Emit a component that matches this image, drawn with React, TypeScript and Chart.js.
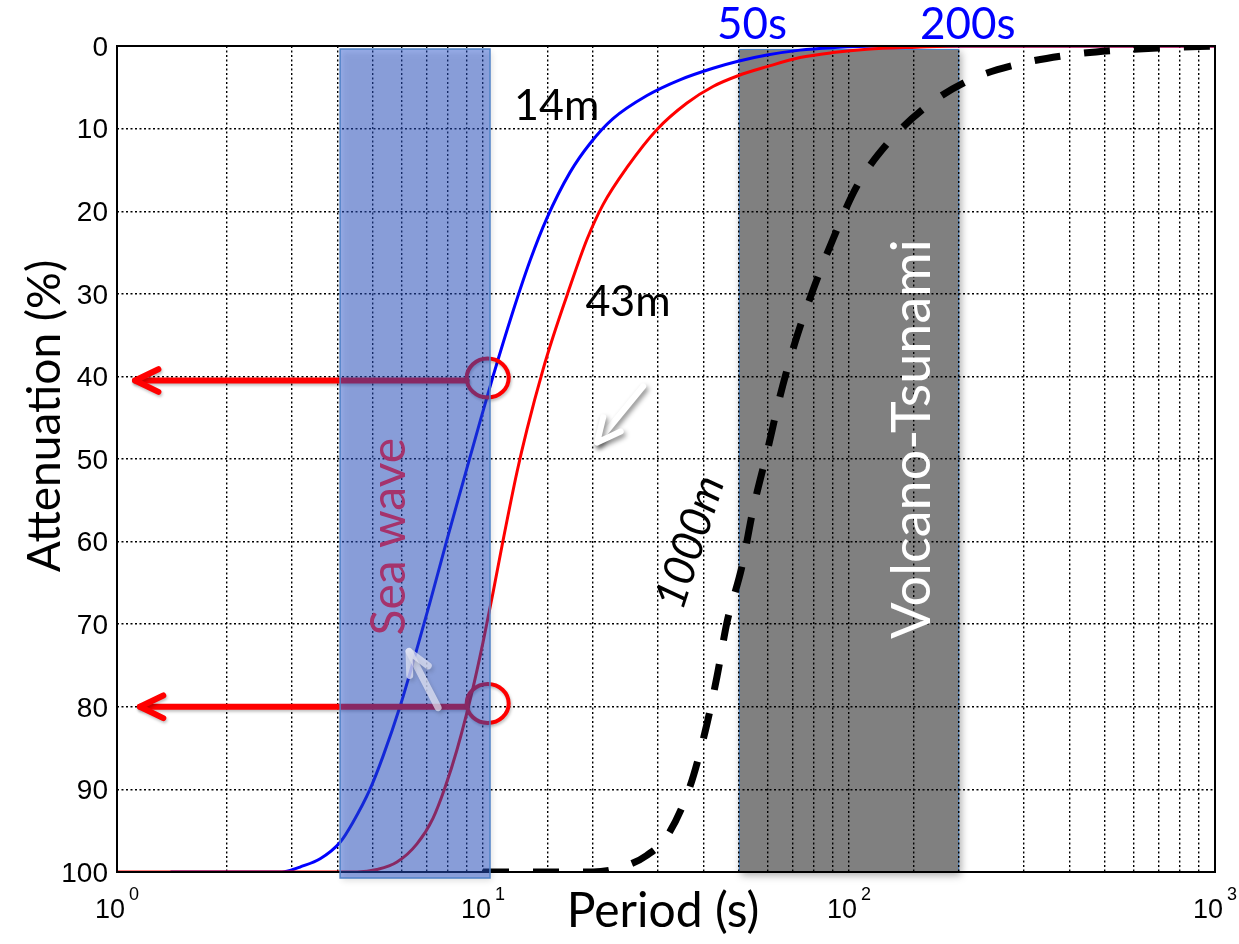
import React, { useEffect, useRef } from 'react';
import { Chart, registerables } from 'chart.js';

Chart.register(...registerables);

// ---- data (period in s, attenuation in %) ----
const period14m = [1.4, 2.0, 2.79, 2.97, 3.16, 3.59, 4.07, 4.41, 4.91, 5.33, 5.93, 6.52, 7.17, 7.97, 8.82, 9.81, 10.65, 12.0, 13.44, 14.96, 17.29, 19.61, 22.66, 28.06, 34.5, 42.5, 49.75, 59.7, 73.5, 90.4, 118, 1000];
const atten14m = [100, 100, 100, 99.8, 99.4, 98.4, 96.4, 94.0, 90.0, 86.0, 80.0, 73.8, 67.3, 59.8, 52.8, 45.5, 40.0, 32.5, 26.0, 20.8, 15.3, 11.8, 8.8, 6.0, 4.1, 2.7, 1.85, 1.1, 0.5, 0.2, 0, 0];

const period43m = [1, 3, 4.53, 5.13, 5.82, 6.6, 7.3, 7.87, 8.49, 9.39, 10.0, 10.65, 11.34, 12.38, 13.19, 14.58, 15.54, 16.96, 19.24, 21.28, 24.74, 29.88, 36.09, 42.5, 49.75, 59.7, 73.5, 90.4, 112, 153, 201, 1000];
const atten43m = [100, 100, 100, 99.7, 98.8, 96.6, 93.5, 89.8, 85.2, 77.7, 72.2, 66.2, 59.9, 51.6, 46.4, 39.2, 35.2, 30.2, 23.4, 19.2, 14.7, 10.1, 6.9, 4.9, 3.6, 2.5, 1.4, 0.8, 0.4, 0.15, 0, 0];

const period1000m = [10, 15, 20, 24.4, 28, 31.8, 36.8, 40.4, 43.6, 46.4, 51, 54.7, 59.7, 64.8, 71.2, 79.8, 90.4, 105, 128, 163, 214, 290, 396, 543, 744, 1000];
const atten1000m = [100, 100, 100, 99.3, 98, 95.7, 89.6, 83.1, 76.3, 69.8, 63, 56.1, 49.2, 42.4, 35.9, 29.5, 23.4, 17, 11.7, 7.3, 4.1, 2.2, 1.1, 0.5, 0.2, 0];

const yTickValues = [0, 10, 20, 30, 40, 50, 60, 70, 80, 90, 100];
const yTickLabels = ['0', '10', '20', '30', '40', '50', '60', '70', '80', '90', '100'];
const xTickValues = [1, 10, 100, 1000];
const xTickBase = ['10', '10', '10', '10'];
const xTickExponents = ['0', '1', '2', '3'];

const seaWaveBand = [4.07, 10.45];
const tsunamiBand = [50, 200];
const bandLabels = ['50s', '200s'];
const arrowLevels = [40.5, 80];
const circleLevels = [40.2, 79.6];
const circlePeriod = 10.3;
const arrowTipPeriod = [1.12, 1.155];

const xTitle = 'Period (s)';
const yTitle = 'Attenuation (%)';

const pts = (xs: number[], ys: number[]) => xs.map((x, i) => ({ x, y: ys[i] }));

function rotText(ctx: CanvasRenderingContext2D, text: string, x: number, y: number, angle: number, font: string, color: string) {
  ctx.save();
  ctx.translate(x, y);
  ctx.rotate(angle);
  ctx.font = font;
  ctx.fillStyle = color;
  ctx.textAlign = 'center';
  ctx.textBaseline = 'middle';
  ctx.fillText(text, 0, 0);
  ctx.restore();
}

function arrowLine(ctx: CanvasRenderingContext2D, x0: number, y0: number, x1: number, y1: number, head: number, color: string, width: number) {
  const ang = Math.atan2(y1 - y0, x1 - x0);
  ctx.strokeStyle = color;
  ctx.lineWidth = width;
  ctx.lineCap = 'round';
  ctx.lineJoin = 'round';
  ctx.beginPath();
  ctx.moveTo(x0, y0);
  ctx.lineTo(x1, y1);
  ctx.stroke();
  ctx.beginPath();
  ctx.moveTo(x1 - head * Math.cos(ang - 0.45), y1 - head * Math.sin(ang - 0.45));
  ctx.lineTo(x1, y1);
  ctx.lineTo(x1 - head * Math.cos(ang + 0.45), y1 - head * Math.sin(ang + 0.45));
  ctx.stroke();
}

const lato = (s: number) => `${s}px Lato, "Open Sans", sans-serif`;

const overlayPlugin = {
  id: 'overlay',
  beforeDraw(chart: any) {
    const { ctx, chartArea: a, scales } = chart;
    const x = scales.x;
    const g0 = x.getPixelForValue(tsunamiBand[0]);
    const g1 = x.getPixelForValue(tsunamiBand[1]);
    ctx.save();
    ctx.shadowColor = 'rgba(0,0,0,0.35)';
    ctx.shadowBlur = 8;
    ctx.shadowOffsetX = 2;
    ctx.shadowOffsetY = 3;
    ctx.fillStyle = '#808080';
    ctx.fillRect(g0, a.top + 3, g1 - g0, a.bottom - a.top - 3);
    ctx.restore();
    ctx.save();
    ctx.strokeStyle = 'rgb(70,130,200)';
    ctx.lineWidth = 1;
    ctx.strokeRect(g0 + 0.5, a.top + 3.5, g1 - g0 - 1, a.bottom - a.top - 4);
    ctx.restore();
  },
  afterDatasetsDraw(chart: any) {
    const { ctx, chartArea: a, scales } = chart;
    const x = scales.x, y = scales.y;
    ctx.save();
    // frame
    ctx.strokeStyle = '#000';
    ctx.lineWidth = 2;
    ctx.strokeRect(a.left, a.top, a.right - a.left, a.bottom - a.top);

    // white decorative arrow
    ctx.save();
    ctx.shadowColor = 'rgba(0,0,0,0.45)';
    ctx.shadowBlur = 5;
    ctx.shadowOffsetX = 2;
    ctx.shadowOffsetY = 3;
    arrowLine(ctx, x.getPixelForValue(27.4), y.getPixelForValue(41.2), x.getPixelForValue(20.5), y.getPixelForValue(48.0), 26, '#ffffff', 6);
    ctx.restore();

    // red arrows + circles
    ctx.save();
    ctx.shadowColor = 'rgba(0,0,0,0.25)';
    ctx.shadowBlur = 3;
    ctx.shadowOffsetX = 1;
    ctx.shadowOffsetY = 2;
    for (let i = 0; i < arrowLevels.length; i++) {
      const cx = x.getPixelForValue(circlePeriod);
      const cy = y.getPixelForValue(circleLevels[i]);
      const py = y.getPixelForValue(arrowLevels[i]);
      const tip = x.getPixelForValue(arrowTipPeriod[i]);
      arrowLine(ctx, cx - 21, py, tip, py, 26, '#ff0000', 6);
      ctx.lineWidth = 4;
      ctx.beginPath();
      ctx.ellipse(cx, cy, 21, 19.5, 0, 0, Math.PI * 2);
      ctx.stroke();
    }
    ctx.restore();

    // blue sea-wave band (translucent, over the curves)
    const b0 = x.getPixelForValue(seaWaveBand[0]);
    const b1 = x.getPixelForValue(seaWaveBand[1]);
    ctx.save();
    ctx.shadowColor = 'rgba(0,0,0,0.25)';
    ctx.shadowBlur = 6;
    ctx.shadowOffsetX = 2;
    ctx.shadowOffsetY = 3;
    ctx.fillStyle = 'rgba(40,84,207,0.48)';
    ctx.fillRect(b0, a.top + 3, b1 - b0, a.bottom - a.top + 3);
    ctx.restore();
    ctx.strokeStyle = 'rgb(80,130,200)';
    ctx.lineWidth = 1.5;
    ctx.strokeRect(b0, a.top + 3, b1 - b0, a.bottom - a.top + 3);

    // pale arrow in band
    ctx.save();
    ctx.globalAlpha = 0.7;
    ctx.shadowColor = 'rgba(0,0,0,0.2)';
    ctx.shadowBlur = 4;
    ctx.shadowOffsetX = 2;
    ctx.shadowOffsetY = 3;
    arrowLine(ctx, x.getPixelForValue(7.54), y.getPixelForValue(80.1), x.getPixelForValue(6.28), y.getPixelForValue(73.3), 24, '#e8eaf8', 7);
    ctx.restore();

    // annotation texts
    ctx.fillStyle = '#000';
    ctx.font = lato(43);
    ctx.textAlign = 'center';
    ctx.textBaseline = 'alphabetic';
    ctx.fillText('14m', x.getPixelForValue(15.9), y.getPixelForValue(9.0));
    ctx.fillText('43m', x.getPixelForValue(24.9), y.getPixelForValue(32.7));

    rotText(ctx, 'Volcano-Tsunami', x.getPixelForValue(149), y.getPixelForValue(47.6), -Math.PI / 2, lato(54), '#ffffff');
    rotText(ctx, 'Sea wave', x.getPixelForValue(5.57), y.getPixelForValue(59.4), -Math.PI / 2, lato(48), '#a5336c');
    rotText(ctx, '1000m', x.getPixelForValue(36.8), y.getPixelForValue(60.1), -72 * Math.PI / 180, `italic ${lato(44)}`, '#000');

    // band labels above the plot
    ctx.fillStyle = '#0000ff';
    ctx.font = lato(44);
    ctx.textAlign = 'center';
    ctx.textBaseline = 'alphabetic';
    ctx.fillText(bandLabels[0], x.getPixelForValue(54.3), a.top - 7);
    ctx.fillText(bandLabels[1], x.getPixelForValue(211), a.top - 7);
    ctx.restore();
  },
  afterDraw(chart: any) {
    const { ctx, chartArea: a, scales } = chart;
    const x = scales.x, y = scales.y;
    ctx.save();
    ctx.fillStyle = '#000';
    // y tick labels
    ctx.font = '28px "Liberation Sans", Arial, sans-serif';
    ctx.textAlign = 'right';
    ctx.textBaseline = 'middle';
    yTickValues.forEach((v, i) => {
      ctx.fillText(yTickLabels[i], a.left - 9, y.getPixelForValue(v) + 2);
    });
    // x tick labels 10^n
    xTickValues.forEach((v, i) => {
      const px = x.getPixelForValue(v);
      ctx.font = '27px "Liberation Sans", Arial, sans-serif';
      ctx.textAlign = 'center';
      ctx.textBaseline = 'alphabetic';
      ctx.fillText(xTickBase[i], px - 7, a.bottom + 46);
      ctx.font = '18px "Liberation Sans", Arial, sans-serif';
      ctx.textAlign = 'left';
      ctx.fillText(xTickExponents[i], px + 12, a.bottom + 28);
    });
    // axis titles
    rotText(ctx, yTitle, 45, 416, -Math.PI / 2, lato(46), '#000');
    ctx.font = lato(48);
    ctx.textAlign = 'center';
    ctx.textBaseline = 'middle';
    ctx.fillText(xTitle, 663, 912);
    ctx.restore();
  },
};

export default function App() {
  const ref = useRef<HTMLCanvasElement | null>(null);
  useEffect(() => {
    if (!ref.current) return;
    document.body.style.margin = '0';
    const chart = new Chart(ref.current, {
      type: 'scatter',
      data: {
        datasets: [
          {
            label: '1000m',
            data: pts(period1000m, atten1000m),
            showLine: true,
            borderColor: '#000000',
            borderWidth: 7,
            borderDash: [26, 24],
            borderCapStyle: 'butt',
            pointRadius: 0,
            cubicInterpolationMode: 'monotone',
            order: 0,
          },
          {
            label: '43m',
            data: pts(period43m, atten43m),
            showLine: true,
            borderColor: '#ff0000',
            borderWidth: 3,
            pointRadius: 0,
            cubicInterpolationMode: 'monotone',
            order: 1,
          },
          {
            label: '14m',
            data: pts(period14m, atten14m),
            showLine: true,
            borderColor: '#0000ff',
            borderWidth: 3,
            pointRadius: 0,
            cubicInterpolationMode: 'monotone',
            order: 2,
          },
        ],
      },
      options: {
        animation: false,
        responsive: false,
        maintainAspectRatio: false,
        layout: { padding: { left: 117, right: 24, top: 46, bottom: 72 } },
        plugins: { legend: { display: false }, tooltip: { enabled: false } },
        scales: {
          x: {
            type: 'logarithmic',
            min: 1,
            max: 1000,
            ticks: { display: false, autoSkip: false },
            grid: { color: '#000', lineWidth: 1.4, drawTicks: false },
            border: { display: false, dash: [2, 2.5] },
          },
          y: {
            type: 'linear',
            reverse: true,
            min: 0,
            max: 100,
            ticks: { display: false, stepSize: 10, autoSkip: false },
            grid: { color: '#000', lineWidth: 1.4, drawTicks: false },
            border: { display: false, dash: [2, 2.5] },
          },
        },
      },
      plugins: [overlayPlugin],
    } as any);
    return () => chart.destroy();
  }, []);
  return <canvas ref={ref} width={1239} height={944} style={{ display: 'block' }} />;
}
